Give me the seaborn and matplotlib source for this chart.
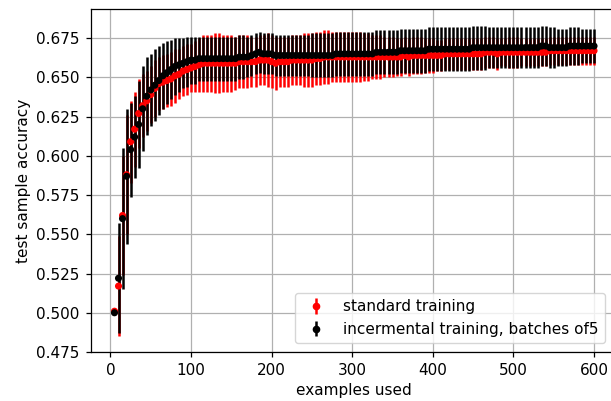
import matplotlib
matplotlib.use("Agg")
import matplotlib.pyplot as plt
from matplotlib.lines import Line2D
from matplotlib.legend_handler import HandlerTuple
import seaborn as sns
import pandas as pd

examples = list(range(5, 601, 5))

std_mean = [
    .501, .517, .562, .588, .609, .617, .627, .632, .635, .639,
    .643, .646, .647, .648, .649, .651, .652, .654, .655, .656,
    .657, .658, .659, .659, .659, .659, .659, .659, .659, .659,
    .659, .660, .660, .660, .660, .660, .661, .661, .661, .660,
    .659, .660, .660, .660, .661, .661, .661, .661, .661, .661,
    .662, .662, .663, .663, .663, .663, .663, .663, .663, .663,
    .663, .663, .663, .663, .663, .663, .663, .663, .663, .663,
    .663, .663, .664, .663, .664, .664, .664, .664, .664, .664,
    .664, .664, .665, .665, .665, .665, .665, .665, .665, .665,
    .665, .665, .666, .666, .666, .665, .666, .666, .666, .666,
    .666, .666, .666, .666, .666, .666, .666, .666, .667, .667,
    .667, .667, .667, .667, .667, .667, .667, .667, .667, .667,
]
std_err = [
    .000, .032, .038, .038, .026, .024, .022, .020, .019, .018,
    .018, .017, .017, .017, .017, .017, .016, .016, .016, .015,
    .016, .017, .018, .018, .018, .019, .019, .018, .018, .018,
    .017, .017, .017, .017, .016, .016, .016, .016, .017, .017,
    .017, .016, .016, .016, .016, .016, .016, .017, .017, .017,
    .017, .017, .017, .017, .016, .016, .016, .016, .016, .016,
    .016, .016, .015, .015, .014, .014, .014, .013, .013, .013,
    .012, .012, .012, .012, .012, .012, .012, .011, .011, .011,
    .010, .010, .010, .010, .010, .010, .010, .010, .010, .010,
    .010, .010, .010, .010, .010, .010, .009, .009, .010, .010,
    .010, .009, .009, .009, .009, .009, .009, .009, .009, .009,
    .009, .009, .009, .009, .009, .009, .009, .009, .009, .009,
]

inc_mean = [
    .500, .522, .560, .587, .604, .612, .620, .630, .638, .642,
    .645, .648, .651, .653, .655, .657, .658, .659, .660, .661,
    .661, .662, .662, .662, .662, .662, .662, .662, .662, .662,
    .662, .663, .663, .663, .664, .665, .666, .665, .665, .665,
    .664, .664, .664, .664, .664, .664, .664, .664, .664, .664,
    .664, .664, .664, .664, .664, .665, .665, .665, .665, .665,
    .665, .665, .665, .665, .665, .666, .666, .666, .666, .666,
    .666, .667, .667, .667, .667, .667, .667, .667, .668, .668,
    .668, .668, .668, .668, .668, .668, .668, .668, .668, .669,
    .669, .669, .669, .669, .669, .669, .669, .669, .669, .669,
    .669, .669, .669, .669, .669, .669, .670, .670, .669, .669,
    .669, .669, .669, .670, .670, .670, .670, .670, .670, .670,
]
inc_err = [
    .000, .035, .045, .043, .030, .026, .028, .027, .025, .023,
    .023, .022, .021, .020, .019, .018, .017, .016, .016, .015,
    .015, .014, .014, .014, .014, .014, .014, .014, .014, .014,
    .014, .014, .014, .013, .013, .013, .013, .013, .013, .013,
    .013, .013, .013, .013, .013, .013, .013, .013, .013, .014,
    .014, .014, .014, .014, .014, .014, .014, .014, .014, .014,
    .014, .014, .014, .014, .014, .014, .014, .014, .014, .014,
    .014, .014, .014, .014, .014, .014, .014, .014, .014, .014,
    .014, .014, .014, .014, .014, .014, .014, .014, .014, .014,
    .014, .014, .014, .013, .013, .013, .013, .013, .013, .013,
    .013, .013, .013, .013, .013, .013, .013, .013, .013, .013,
    .012, .012, .012, .012, .012, .012, .011, .011, .011, .011,
]

series_labels = ["standard training", "incermental training, batches of5"]
series_colors = ["red", "black"]
x_ticks = [0, 100, 200, 300, 400, 500, 600]
y_ticks = [0.475, 0.500, 0.525, 0.550, 0.575, 0.600, 0.625, 0.650, 0.675]

sns.set_style("ticks", {"axes.grid": True})
plt.rcParams.update({
    "font.family": ["DejaVu Sans"],
    "font.size": 11,
    "axes.edgecolor": "black",
    "axes.labelcolor": "black",
    "text.color": "black",
    "xtick.color": "black",
    "ytick.color": "black",
    "grid.color": "#b0b0b0",
    "grid.linewidth": 0.9,
    "axes.linewidth": 0.9,
    "xtick.major.size": 3.85,
    "ytick.major.size": 3.85,
    "xtick.major.width": 0.9,
    "ytick.major.width": 0.9,
    "xtick.major.pad": 3.85,
    "ytick.major.pad": 3.85,
    "xtick.labelsize": 11,
    "ytick.labelsize": 11,
    "axes.labelsize": 11,
    "legend.fontsize": 11,
})

df = pd.concat([
    pd.DataFrame({"examples": examples, "acc": std_mean, "err": std_err, "series": series_labels[0]}),
    pd.DataFrame({"examples": examples, "acc": inc_mean, "err": inc_err, "series": series_labels[1]}),
], ignore_index=True)

fig = plt.figure(figsize=(6.11, 4.01), dpi=100)
ax = fig.add_axes([90.5 / 611, 1 - 352 / 401, (618 - 90.5) / 611, (352 - 9.3) / 401])

handles = []
for lab, col in zip(series_labels, series_colors):
    d = df[df["series"] == lab]
    eb = ax.errorbar(d["examples"], d["acc"], yerr=d["err"], fmt="none",
                     ecolor=col, elinewidth=1.8, zorder=2)
    mk = Line2D([], [], marker="o", color=col, ls="none", markersize=4.5)
    handles.append((eb, mk))

sns.scatterplot(data=df, x="examples", y="acc", hue="series",
                palette=dict(zip(series_labels, series_colors)),
                s=26, linewidth=0, legend=False, ax=ax, zorder=3)

ax.set_xlim(-24.75, 629.75)
ax.set_ylim(0.475, 0.6934)
ax.set_xticks(x_ticks)
ax.set_yticks(y_ticks)
ax.set_xlabel("examples used")
ax.set_ylabel("test sample accuracy")
ax.grid(True)

ax.legend(handles, series_labels, handler_map={tuple: HandlerTuple(ndivide=1)},
          loc="lower right", bbox_to_anchor=(605 / 611, (401 - 343) / 401),
          bbox_transform=fig.transFigure, borderaxespad=0, frameon=True)

fig.savefig("out.png", dpi=100)
